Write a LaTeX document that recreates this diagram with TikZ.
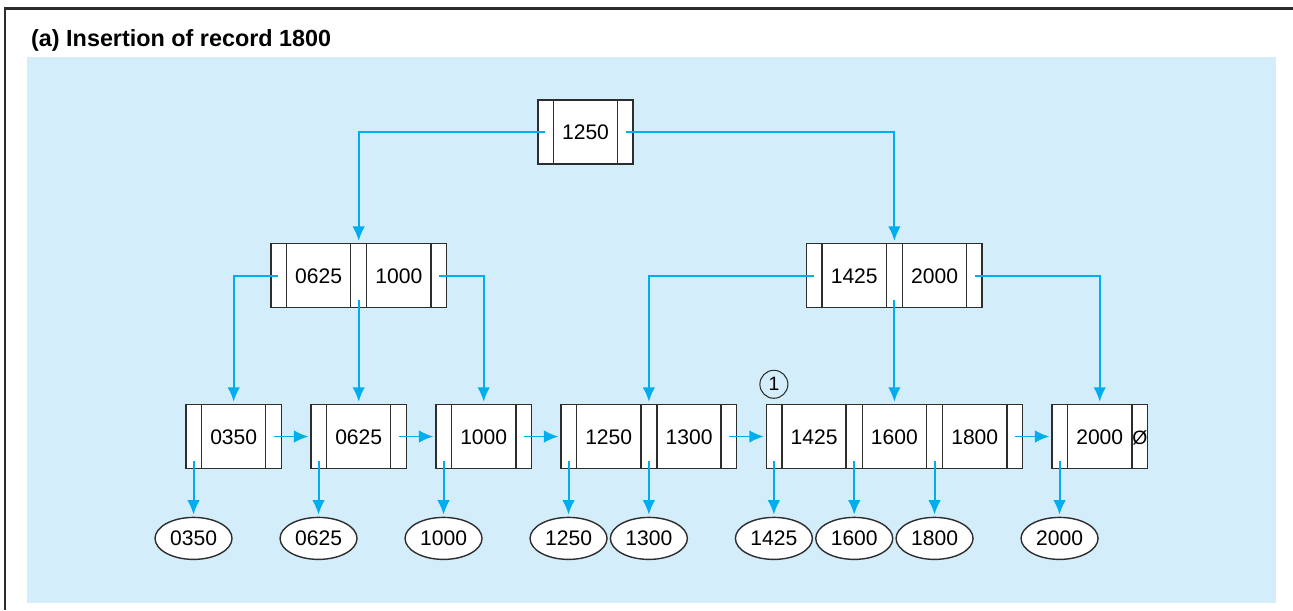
\documentclass[tikz,border=0pt]{standalone}
\usepackage{fontspec}
\setmainfont{Liberation Sans}
\usetikzlibrary{positioning,shapes.multipart,shapes.geometric,arrows.meta}
\definecolor{panelblue}{RGB}{211,237,250}
\definecolor{ptrcyan}{RGB}{0,174,239}
\definecolor{boxgray}{RGB}{45,45,45}
\newcommand{\pcell}{\makebox[\dimexpr0.32cm-0.7pt\relax]{\rule[-0.49cm]{0pt}{1.28cm}}}
\newcommand{\kcell}[1]{\makebox[\dimexpr1.28cm-0.7pt\relax]{\rule[-0.49cm]{0pt}{1.28cm}#1}}
\begin{document}
\begin{tikzpicture}[x=0.02cm, y=-0.02cm,
	keynode/.style={rectangle split, rectangle split horizontal, rectangle split parts=#1, draw=boxgray, fill=white, line width=0.8pt, inner sep=0pt, font=\fontsize{12}{14}\selectfont},
	recnode/.style={ellipse, draw=boxgray, fill=white, line width=0.8pt, minimum width=1.54cm, minimum height=0.84cm, inner sep=0pt, font=\fontsize{12}{14}\selectfont},
	ptr/.style={draw=ptrcyan, line width=1.1pt, -{Latex[length=0.29cm,width=0.25cm]}, shorten >=0.04cm}]
	\useasboundingbox (0,0) rectangle (1293,610);
	\fill[panelblue] (27,57) rectangle (1276,603);
	\draw[boxgray, line width=0.06cm] (5,610) -- (5,8) -- (1293,8);
	\node[anchor=base west, font=\bfseries\fontsize{13.3}{16}\selectfont] (title) at (25,46.7) {(a) Insertion of record 1800};
	
	% leaves
	\node[keynode=3] (l0350) at (233.7,436.5) {\pcell\nodepart{two}\kcell{0350}\nodepart{three}\pcell};
	\node[keynode=3, right=0.57cm of l0350] (l0625) {\pcell\nodepart{two}\kcell{0625}\nodepart{three}\pcell};
	\node[keynode=3, right=0.57cm of l0625] (l1000) {\pcell\nodepart{two}\kcell{1000}\nodepart{three}\pcell};
	\node[keynode=5, right=0.57cm of l1000] (l1250) {\pcell\nodepart{two}\kcell{1250}\nodepart{three}\pcell\nodepart{four}\kcell{1300}\nodepart{five}\pcell};
	\node[keynode=7, right=0.57cm of l1250] (l1425) {\pcell\nodepart{two}\kcell{1425}\nodepart{three}\pcell\nodepart{four}\kcell{1600}\nodepart{five}\pcell\nodepart{six}\kcell{1800}\nodepart{seven}\pcell};
	\node[keynode=3, right=0.57cm of l1425] (l2000) {\pcell\nodepart{two}\kcell{2000}\nodepart{three}\makebox[\dimexpr0.32cm-0.7pt\relax]{\rule[-0.49cm]{0pt}{1.28cm}\fontsize{11}{13}\selectfont Ø}};
	\node[circle, draw=boxgray, line width=0.6pt, minimum size=0.56cm, inner sep=0pt, font=\fontsize{11}{13}\selectfont, above=0.1cm of l1425.one north] (mark) {1};
	
	% index nodes
	\node[keynode=5, above=1.91cm of l0625] (i0625) {\pcell\nodepart{two}\kcell{0625}\nodepart{three}\pcell\nodepart{four}\kcell{1000}\nodepart{five}\pcell};
	\node[keynode=5, above=1.91cm of l1425] (i1425) {\pcell\nodepart{two}\kcell{1425}\nodepart{three}\pcell\nodepart{four}\kcell{2000}\nodepart{five}\pcell};
	\node[keynode=3] (root) at (585.5,132) {\pcell\nodepart{two}\kcell{1250}\nodepart{three}\pcell};
	
	% records
	\node[recnode, below=0.95cm of l0350.one south] (r0350) {0350};
	\node[recnode, below=0.95cm of l0625.one south] (r0625) {0625};
	\node[recnode, below=0.95cm of l1000.one south] (r1000) {1000};
	\node[recnode, below=0.95cm of l1250.one south] (r1250) {1250};
	\node[recnode, below=0.95cm of l1250.three south] (r1300) {1300};
	\node[recnode, below=0.95cm of l1425.one south] (r1425) {1425};
	\node[recnode, below=0.95cm of l1425.three south] (r1600) {1600};
	\node[recnode, below=0.95cm of l1425.five south] (r1800) {1800};
	\node[recnode, below=0.95cm of l2000.one south] (r2000) {2000};
	
	% pointers
	\draw[ptr] (root.one south |- root.center) -| (i0625.north);
	\draw[ptr] (root.three south |- root.center) -| (i1425.north);
	\draw[ptr] (i0625.one south |- i0625.center) -| (l0350.north);
	\draw[ptr] ([yshift=0.16cm]i0625.three south) -- (l0625.north);
	\draw[ptr] (i0625.five south |- i0625.center) -| (l1000.north);
	\draw[ptr] (i1425.one south |- i1425.center) -| (l1250.north);
	\draw[ptr] ([yshift=0.16cm]i1425.three south) -- (l1425.north);
	\draw[ptr] (i1425.five south |- i1425.center) -| (l2000.north);
	
	\draw[ptr] (l0350.three south |- l0350.center) -- (l0625.west);
	\draw[ptr] (l0625.three south |- l0625.center) -- (l1000.west);
	\draw[ptr] (l1000.three south |- l1000.center) -- (l1250.west);
	\draw[ptr] (l1250.five south |- l1250.center) -- (l1425.west);
	\draw[ptr] (l1425.seven south |- l1425.center) -- (l2000.west);
	
	\draw[ptr] ([yshift=0.16cm]l0350.one south) -- (r0350.north);
	\draw[ptr] ([yshift=0.16cm]l0625.one south) -- (r0625.north);
	\draw[ptr] ([yshift=0.16cm]l1000.one south) -- (r1000.north);
	\draw[ptr] ([yshift=0.16cm]l1250.one south) -- (r1250.north);
	\draw[ptr] ([yshift=0.16cm]l1250.three south) -- (r1300.north);
	\draw[ptr] ([yshift=0.16cm]l1425.one south) -- (r1425.north);
	\draw[ptr] ([yshift=0.16cm]l1425.three south) -- (r1600.north);
	\draw[ptr] ([yshift=0.16cm]l1425.five south) -- (r1800.north);
	\draw[ptr] ([yshift=0.16cm]l2000.one south) -- (r2000.north);
\end{tikzpicture}
\end{document}
